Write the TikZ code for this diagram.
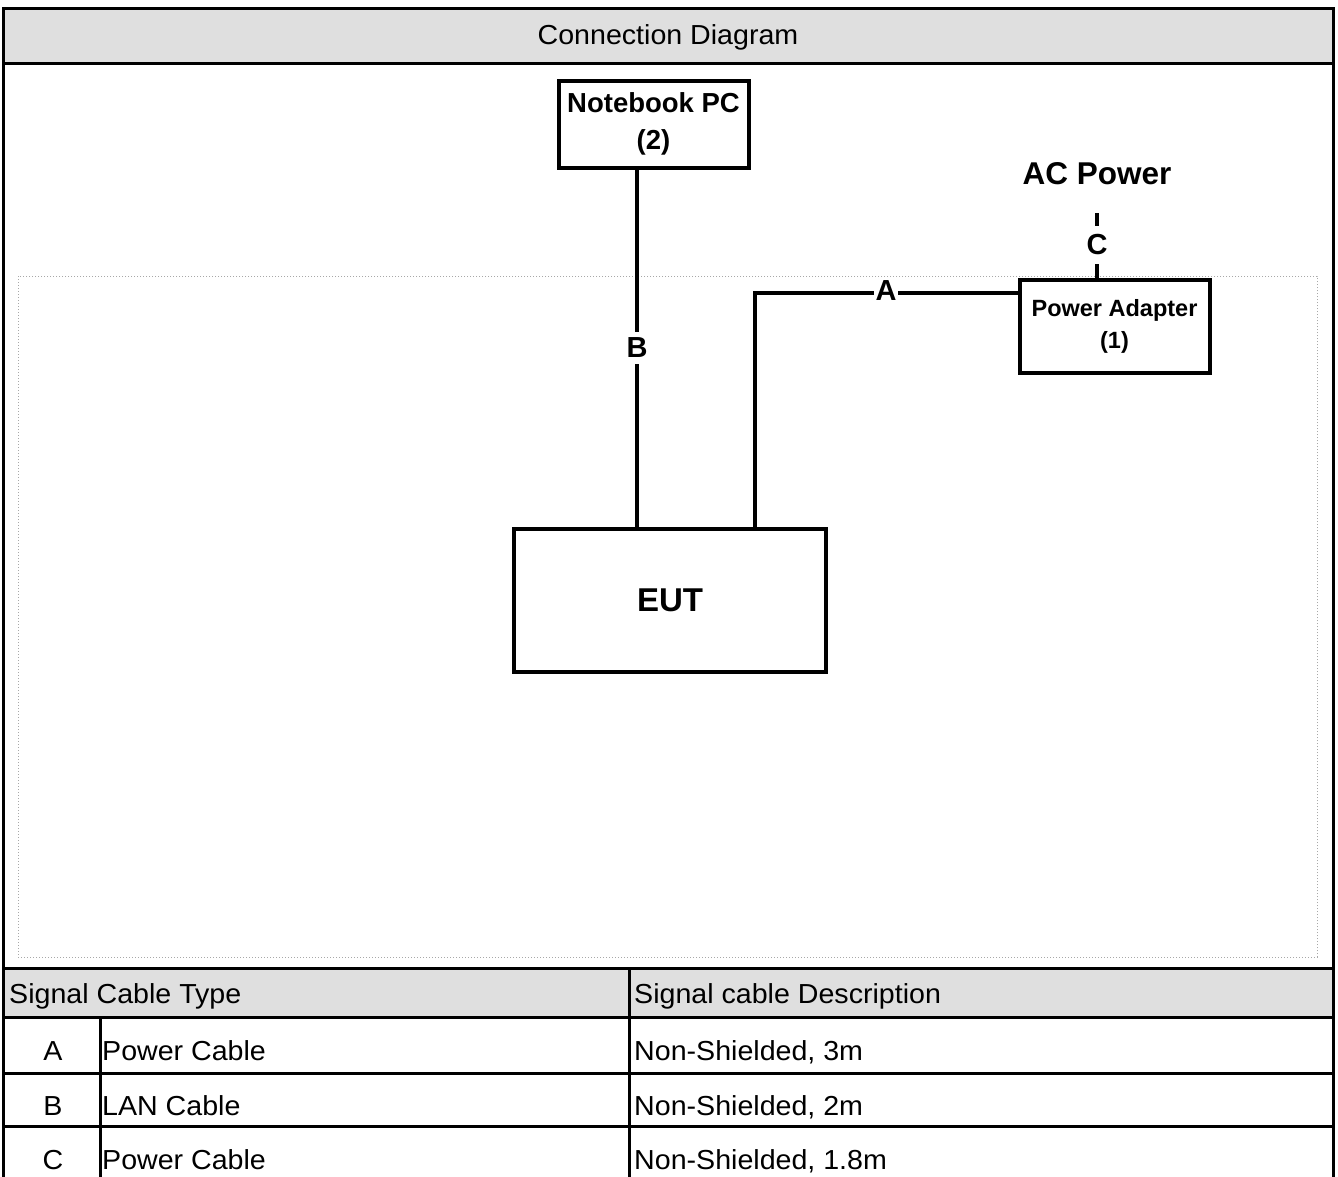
\documentclass[tikz,border=0pt]{standalone}
\usepackage{fontspec}
\setmainfont{Liberation Sans}
\newfontfamily\tabfont{Liberation Sans}[FakeStretch=1.04]
\newfontfamily\dgfont{Liberation Sans}
\definecolor{hdr}{HTML}{DFDFDF}
\definecolor{dotc}{HTML}{A8A8A8}
\begin{document}
\begin{tikzpicture}[x=1pt,y=-1pt,
  tline/.style={line width=3pt,black},
  cable/.style={line width=3.5pt,black},
  devbox/.style={draw,line width=4pt,inner sep=0pt,align=center},
  ttext/.style={font=\tabfont\fontsize{27.5}{32}\selectfont,anchor=base west,inner sep=0pt},
  lab/.style={fill=white,inner sep=1.5pt,font=\dgfont\bfseries\fontsize{29}{31}\selectfont}
]
\useasboundingbox (0,0) rectangle (1338,1176);
\fill[white] (0,0) rectangle (1338,1176);
% header fills
\fill[hdr] (3,8) rectangle (1333,63);
\fill[hdr] (3,968) rectangle (1333,1017);
% dotted drawing frame
\draw[dotc,dotted,line width=1pt] (18,276) rectangle (1317,957);
% table lines
\draw[tline] (3,1182) -- (3,8) -- (1333,8) -- (1333,1182);
\draw[tline] (3,63) -- (1333,63);
\draw[tline] (3,968) -- (1333,968);
\draw[tline] (3,1017) -- (1333,1017);
\draw[tline] (3,1073) -- (1333,1073);
\draw[tline] (3,1126) -- (1333,1126);
\draw[tline] (629,968) -- (629,1182);
\draw[tline] (100,1017) -- (100,1182);
% table texts
\node[ttext,anchor=base] (title) at (668,44) {Connection Diagram};
\node[ttext] (h1) at (9,1003) {Signal Cable Type};
\node[ttext] (h2) at (634,1003) {Signal cable Description};
\node[ttext,anchor=base] (ra) at (53,1060) {A};
\node[ttext] (ta) at (102,1060) {Power Cable};
\node[ttext] (da) at (634,1060) {Non-Shielded, 3m};
\node[ttext,anchor=base] (rb) at (53,1115) {B};
\node[ttext] (tb) at (102,1115) {LAN Cable};
\node[ttext] (db) at (634,1115) {Non-Shielded, 2m};
\node[ttext,anchor=base] (rc) at (53,1169) {C};
\node[ttext] (tc) at (102,1169) {Power Cable};
\node[ttext] (dc) at (634,1169) {Non-Shielded, 1.8m};
% devices
\node[devbox,minimum width=190,minimum height=87,font=\dgfont\bfseries\fontsize{27.5}{37}\selectfont] (nb) at (653.5,124) {Notebook PC\\(2)};
\node[devbox,minimum width=312,minimum height=143,font=\dgfont\bfseries\fontsize{33}{36}\selectfont] (eut) at (670,600) {EUT};
\node[devbox,minimum width=190,minimum height=93,font=\dgfont\bfseries\fontsize{23.5}{32}\selectfont] (pa) at (1114.5,326) {Power Adapter\\(1)};
\node[inner sep=0pt,font=\dgfont\bfseries\fontsize{31.5}{34}\selectfont] (acp) at (1097,174) {AC Power};
% cables
\coordinate (ka) at (755,293);
\coordinate (kb) at (637,348);
\coordinate (kc) at (1097,213);
\draw[cable] (ka |- eut.north) -- (ka) -- (ka -| pa.west);
\draw[cable] (kb |- nb.south) -- (kb |- eut.north);
\draw[cable] (kc |- pa.north) -- (kc);
\node[lab] (la) at (886,291) {A};
\node[lab,inner xsep=1.5pt,inner ysep=6pt] (lb) at (kb) {B};
\node[lab,inner sep=0pt,minimum height=38] (lc) at (1097,245) {C};
\end{tikzpicture}
\end{document}
